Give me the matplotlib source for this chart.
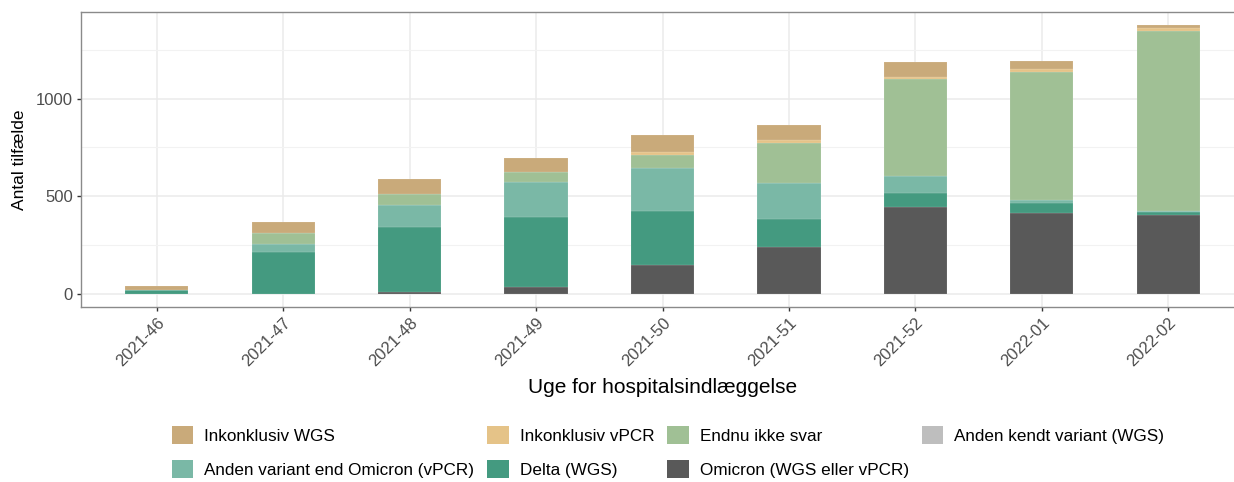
import matplotlib
matplotlib.use("Agg")
import matplotlib.pyplot as plt
from matplotlib.patches import Patch
from matplotlib.ticker import MultipleLocator

plt.rcParams['font.family'] = ['Liberation Sans', 'DejaVu Sans']

weeks = ["2021-46", "2021-47", "2021-48", "2021-49", "2021-50",
         "2021-51", "2021-52", "2022-01", "2022-02"]

# counts per category, bottom of the stack first
omicron = [0, 0, 8, 34, 148, 241, 442, 415, 404]
delta = [20, 211, 333, 357, 273, 139, 75, 51, 12]
anden_variant = [0, 42, 112, 183, 221, 189, 84, 16, 9]
anden_kendt = [0, 0, 0, 0, 0, 0, 0, 0, 0]
endnu = [0, 56, 58, 49, 71, 204, 498, 656, 923]
inkons_vpcr = [0, 0, 0, 0, 15, 17, 13, 12, 16]
inkons_wgs = [17, 58, 77, 70, 85, 76, 77, 42, 11]

series = [
    ("Omicron (WGS eller vPCR)", omicron, "#595959"),
    ("Delta (WGS)", delta, "#449a80"),
    ("Anden variant end Omicron (vPCR)", anden_variant, "#7ab8a6"),
    ("Anden kendt variant (WGS)", anden_kendt, "#bebebe"),
    ("Endnu ikke svar", endnu, "#a0c095"),
    ("Inkonklusiv vPCR", inkons_vpcr, "#e5c388"),
    ("Inkonklusiv WGS", inkons_wgs, "#c9aa7a"),
]

fig = plt.figure(figsize=(12.34, 4.82), dpi=100)
ax = fig.add_axes([81 / 1234, 1 - 307 / 482, (1244 - 81) / 1234, (307 - 12) / 482])

x = list(range(len(weeks)))
bottom = [0] * len(weeks)
handles = {}
for name, vals, col in series:
    ax.bar(x, vals, width=0.5, bottom=bottom, color=col,
           edgecolor=(1, 1, 1, 0.3), linewidth=0.3, zorder=3)
    bottom = [b + v for b, v in zip(bottom, vals)]
    handles[name] = Patch(facecolor=col, edgecolor='none')

total_max = max(bottom)
ax.set_xlim(-0.6, len(weeks) - 0.4)
ax.set_ylim(-0.05 * total_max, 1.05 * total_max)

ax.set_xticks(x)
ax.set_xticklabels(weeks, rotation=45, ha='right', va='top',
                   rotation_mode='anchor')
ax.yaxis.set_major_locator(MultipleLocator(500))
ax.yaxis.set_minor_locator(MultipleLocator(250))

ax.grid(True, which='major', color='#ebebeb', linewidth=1.1, zorder=0)
ax.grid(True, which='minor', axis='y', color='#f2f2f2', linewidth=0.8, zorder=0)
ax.set_axisbelow(True)

ax.tick_params(axis='both', which='major', length=3, width=1, color='#333333',
               labelsize=12, labelcolor='#4d4d4d', pad=3)
ax.tick_params(axis='y', which='minor', length=0)
for s in ax.spines.values():
    s.set_color('#8a8a8a')
    s.set_linewidth(1.0)
ax.spines['right'].set_visible(False)

ax.set_xlabel("Uge for hospitalsindlæggelse", fontsize=15, labelpad=6)
ax.set_ylabel("Antal tilfælde", fontsize=12.5, labelpad=6)

# ggplot-style row-wise legend: reorder for matplotlib's column fill
order = ["Inkonklusiv WGS", "Anden variant end Omicron (vPCR)",
         "Inkonklusiv vPCR", "Delta (WGS)",
         "Endnu ikke svar", "Omicron (WGS eller vPCR)",
         "Anden kendt variant (WGS)"]
fig.legend([handles[n] for n in order], order, ncol=4, frameon=False,
           loc='upper left', bbox_to_anchor=(172 / 1234, 1 - 426 / 482),
           borderpad=0, borderaxespad=0, fontsize=12.3,
           handlelength=1.25, handleheight=1.25, handletextpad=0.65,
           columnspacing=0.75, labelspacing=0.95)

fig.savefig("out.png", dpi=100)
